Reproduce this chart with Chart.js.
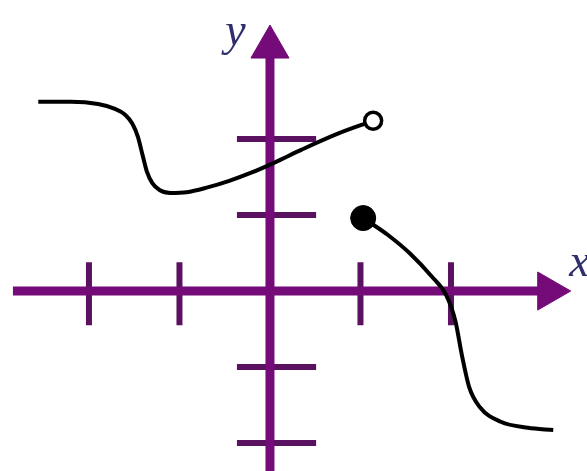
<!DOCTYPE html>
<html>
<head>
<meta charset="utf-8">
<script src="https://cdn.jsdelivr.net/npm/chart.js@4.4.1/dist/chart.umd.min.js"></script>
<style>
  html, body { margin: 0; padding: 0; background: #ffffff; }
  #wrap { position: relative; width: 587px; height: 471px; }
</style>
</head>
<body>
<div id="wrap"><canvas id="c" width="587" height="471"></canvas></div>
<script>
// ---- data (math units) ----
const leftCurveX  = [-2.56, -2.20, -1.90, -1.72, -1.60, -1.52, -1.46, -1.41, -1.36, -1.30, -1.22, -1.10, -0.92, -0.70, -0.45, -0.20, 0.05, 0.35, 0.75, 1.14];
const leftCurveY  = [ 2.49,  2.49,  2.46,  2.40,  2.32,  2.20,  2.03,  1.80,  1.57,  1.42,  1.33,  1.29,  1.30,  1.36,  1.45,  1.56, 1.69, 1.86, 2.07, 2.24];
const rightCurveX = [1.03, 1.30, 1.55, 1.78, 1.95, 2.05, 2.12, 2.20, 2.32, 2.55, 2.85, 3.13];
const rightCurveY = [0.96, 0.74, 0.49, 0.20, -0.06, -0.40, -0.84, -1.26, -1.53, -1.72, -1.80, -1.83];
const openPoint   = [1.14, 2.24];
const closedPoint = [1.03, 0.96];
const xTickValues = [-2, -1, 1, 2];
const yTickValues = [-2, -1, 1, 2];
const xAxisRange  = [-2.84, 3.08];
const yAxisRange  = [-2.37, 3.21];
const xTickSpan   = [-0.45, 0.38];
const yTickSpan   = [-0.365, 0.51];
const axisLabels  = ['x', 'y'];
const xLabelPos   = [3.42, 0.36];
const yLabelPos   = [-0.38, 3.40];
const viewX = [-2.983, 3.503];
const viewY = [-2.368, 3.829];

// ---- build datasets ----
const zip = (xs, ys) => xs.map((x, i) => ({ x: x, y: ys[i] }));
const xTickSegs = [];
xTickValues.forEach(v => { xTickSegs.push({x: v, y: xTickSpan[0]}, {x: v, y: xTickSpan[1]}, {x: v, y: null}); });
const yTickSegs = [];
yTickValues.forEach(v => { yTickSegs.push({x: yTickSpan[0], y: v}, {x: yTickSpan[1], y: v}, {x: null, y: null}); });

const AXIS = '#740b78';
const TICK = '#5a1260';

const labelPlugin = {
  id: 'axisLabels',
  afterDatasetsDraw(chart) {
    const {ctx, scales} = chart;
    ctx.save();
    ctx.fillStyle = '#2f2f6c';
    ctx.font = 'italic 46px "Liberation Serif", "DejaVu Serif", serif';
    ctx.textAlign = 'center';
    ctx.textBaseline = 'middle';
    ctx.fillText(axisLabels[0], scales.x.getPixelForValue(xLabelPos[0]), scales.y.getPixelForValue(xLabelPos[1]));
    ctx.fillText(axisLabels[1], scales.x.getPixelForValue(yLabelPos[0]), scales.y.getPixelForValue(yLabelPos[1]));
    ctx.restore();
  }
};

new Chart(document.getElementById('c'), {
  type: 'scatter',
  data: {
    datasets: [
      { data: [{x: openPoint[0], y: openPoint[1]}], pointRadius: 8.5, pointBorderWidth: 3.5,
        pointBackgroundColor: '#ffffff', pointBorderColor: '#000000', showLine: false },
      { data: [{x: closedPoint[0], y: closedPoint[1]}], pointRadius: 12.5, pointBorderWidth: 1,
        pointBackgroundColor: '#000000', pointBorderColor: '#000000', showLine: false },
      { data: zip(leftCurveX, leftCurveY), showLine: true, borderColor: '#000000', borderWidth: 4,
        pointRadius: 0, cubicInterpolationMode: 'monotone', fill: false },
      { data: zip(rightCurveX, rightCurveY), showLine: true, borderColor: '#000000', borderWidth: 4,
        pointRadius: 0, cubicInterpolationMode: 'monotone', fill: false },
      { data: [{x: xAxisRange[1], y: 0}], pointStyle: 'triangle', rotation: 90, pointRadius: 22,
        pointBackgroundColor: AXIS, pointBorderColor: AXIS, pointBorderWidth: 1, showLine: false },
      { data: [{x: 0, y: yAxisRange[1]}], pointStyle: 'triangle', rotation: 0, pointRadius: 22,
        pointBackgroundColor: AXIS, pointBorderColor: AXIS, pointBorderWidth: 1, showLine: false },
      { data: [{x: xAxisRange[0], y: 0}, {x: xAxisRange[1], y: 0}], showLine: true, borderColor: AXIS,
        borderWidth: 9, pointRadius: 0, borderCapStyle: 'butt' },
      { data: [{x: 0, y: yAxisRange[0]}, {x: 0, y: yAxisRange[1]}], showLine: true, borderColor: AXIS,
        borderWidth: 9, pointRadius: 0, borderCapStyle: 'butt' },
      { data: xTickSegs, showLine: true, spanGaps: false, borderColor: TICK, borderWidth: 6, pointRadius: 0 },
      { data: yTickSegs, showLine: true, spanGaps: false, borderColor: TICK, borderWidth: 6, pointRadius: 0 }
    ]
  },
  options: {
    responsive: false,
    animation: false,
    events: [],
    clip: false,
    layout: { padding: 0, autoPadding: false },
    plugins: { legend: { display: false }, tooltip: { enabled: false } },
    scales: {
      x: { type: 'linear', min: viewX[0], max: viewX[1], display: false },
      y: { type: 'linear', min: viewY[0], max: viewY[1], display: false }
    }
  },
  plugins: [labelPlugin]
});
</script>
</body>
</html>
